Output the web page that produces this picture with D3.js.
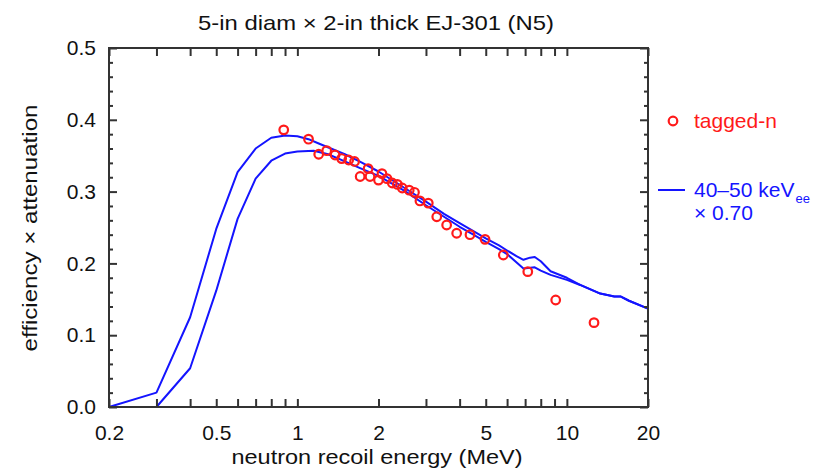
<!DOCTYPE html>
<html>
<head>
<meta charset="utf-8">
<script src="https://cdnjs.cloudflare.com/ajax/libs/d3/7.8.5/d3.min.js"></script>
<style>
  html, body { margin: 0; padding: 0; background: #fff; }
  svg { display: block; font-family: "Liberation Sans", Arial, Helvetica, sans-serif; }
</style>
</head>
<body>
<svg id="chart" width="828" height="469"></svg>
<script>
// ---- data ----
const title = "5-in diam \u00d7 2-in thick EJ-301 (N5)";
const xTitle = "neutron recoil energy (MeV)";
const yTitle = "efficiency \u00d7 attenuation";
const xDomain = [0.2, 20];
const yDomain = [0, 0.5];
const xTickLabels = [0.2, 0.5, 1, 2, 5, 10, 20];
const xTickLabelText = ["0.2", "0.5", "1", "2", "5", "10", "20"];
const xMinorTicks = [0.3, 0.4, 0.6, 0.7, 0.8, 0.9, 3, 4, 6, 7, 8, 9];
const yMajorTicks = [0, 0.1, 0.2, 0.3, 0.4, 0.5];
const yTickLabelText = ["0.0", "0.1", "0.2", "0.3", "0.4", "0.5"];
const yMinorTicks = [0.02,0.04,0.06,0.08,0.12,0.14,0.16,0.18,0.22,0.24,0.26,0.28,0.32,0.34,0.36,0.38,0.42,0.44,0.46,0.48];

// upper blue curve
const upperE = [0.2, 0.3, 0.4, 0.5, 0.6, 0.7, 0.8, 0.9, 1.0, 1.1, 1.2, 1.5, 1.7, 2.0, 2.5, 3.0, 3.5, 4.0, 4.5, 5.0, 5.6, 6.0, 6.5, 6.9, 7.3, 7.6, 8.0, 8.7, 10, 11.2, 13.3, 15, 15.8, 17, 20];
const upperV = [0.0, 0.02, 0.125, 0.248, 0.327, 0.36, 0.375, 0.378, 0.377, 0.373, 0.367, 0.352, 0.342, 0.328, 0.305, 0.286, 0.269, 0.256, 0.245, 0.235, 0.225, 0.218, 0.21, 0.205, 0.208, 0.209, 0.203, 0.189, 0.18, 0.17, 0.158, 0.154, 0.154, 0.148, 0.137];
// lower blue curve
const lowerE = [0.2, 0.3, 0.4, 0.5, 0.6, 0.7, 0.8, 0.9, 1.0, 1.15, 1.3, 1.5, 1.7, 2.0, 2.5, 3.0, 3.5, 4.0, 4.5, 5.0, 5.6, 6.0, 6.9, 7.6, 8.0, 8.7, 10, 11.2, 13.3, 15, 15.8, 17, 20];
const lowerV = [0.0, 0.0, 0.054, 0.162, 0.262, 0.318, 0.343, 0.353, 0.356, 0.357, 0.352, 0.342, 0.333, 0.322, 0.301, 0.281, 0.265, 0.251, 0.24, 0.23, 0.22, 0.213, 0.193, 0.1945, 0.19, 0.184, 0.177, 0.17, 0.158, 0.154, 0.154, 0.148, 0.137];
// tagged-n points
const taggedE = [0.89, 1.10, 1.20, 1.285, 1.38, 1.46, 1.55, 1.63, 1.71, 1.83, 1.86, 2.0, 2.06, 2.15, 2.25, 2.35, 2.45, 2.6, 2.72, 2.85, 3.06, 3.29, 3.58, 3.9, 4.37, 4.97, 5.81, 7.16, 9.09, 12.61];
const taggedV = [0.386, 0.373, 0.352, 0.357, 0.351, 0.346, 0.344, 0.342, 0.321, 0.332, 0.321, 0.316, 0.325, 0.318, 0.312, 0.31, 0.305, 0.302, 0.299, 0.287, 0.284, 0.265, 0.2535, 0.242, 0.24, 0.2335, 0.2117, 0.1885, 0.149, 0.1175];

const legendPoints = "tagged-n";
const legendLine1 = "40\u201350 keV";
const legendLineSub = "ee";
const legendLine2 = "\u00d7 0.70";

// ---- layout ----
const RED = "#ff1a1a", BLUE = "#1414ff", FRAME = "#333333";
const m = { left: 109, right: 648, top: 48, bottom: 407 };
const svg = d3.select("#chart");
const x = d3.scaleLog().domain(xDomain).range([m.left, m.right]);
const y = d3.scaleLinear().domain(yDomain).range([m.bottom, m.top]);

function stretch(sel, w) {
  sel.attr("textLength", w).attr("lengthAdjust", "spacingAndGlyphs");
}

// title
svg.append("text").attr("x", 376).attr("y", 30).attr("text-anchor", "middle")
  .attr("font-size", 21).attr("fill", "#111").text(title).call(stretch, 356);

// curves
const line = d3.line().x(d => x(d[0])).y(d => y(d[1]));
const g = svg.append("g");
g.append("path").datum(upperE.map((e, i) => [e, upperV[i]]))
  .attr("d", line).attr("fill", "none").attr("stroke", BLUE).attr("stroke-width", 2).attr("stroke-linejoin", "round");
g.append("path").datum(lowerE.map((e, i) => [e, lowerV[i]]))
  .attr("d", line).attr("fill", "none").attr("stroke", BLUE).attr("stroke-width", 2).attr("stroke-linejoin", "round");

// points
g.selectAll("circle.pt").data(taggedE.map((e, i) => [e, taggedV[i]])).join("circle")
  .attr("class", "pt").attr("cx", d => x(d[0])).attr("cy", d => y(d[1])).attr("r", 4.3)
  .attr("fill", "none").attr("stroke", RED).attr("stroke-width", 2.2);

// axes (inward ticks on all sides)
function styleAxis(sel) {
  sel.select(".domain").remove();
  sel.selectAll(".tick line").attr("stroke", FRAME).attr("stroke-width", 2);
  sel.selectAll(".tick text").attr("font-size", 21).attr("fill", "#111")
     .attr("font-family", "Liberation Sans, Arial, sans-serif");
}
const xMajor = d3.axisBottom(x).tickValues(xTickLabels).tickSize(-8).tickPadding(18)
  .tickFormat((d, i) => xTickLabelText[i]);
svg.append("g").attr("transform", `translate(0,${m.bottom})`).call(xMajor).call(styleAxis);
svg.append("g").attr("transform", `translate(0,${m.bottom})`)
  .call(d3.axisBottom(x).tickValues(xMinorTicks).tickSize(-8).tickFormat("")).call(styleAxis);
svg.append("g").attr("transform", `translate(0,${m.top})`)
  .call(d3.axisTop(x).tickValues(xTickLabels.concat(xMinorTicks)).tickSize(-8).tickFormat("")).call(styleAxis);

const yMajor = d3.axisLeft(y).tickValues(yMajorTicks).tickSize(-8).tickPadding(13)
  .tickFormat((d, i) => yTickLabelText[i]);
svg.append("g").attr("transform", `translate(${m.left},0)`).call(yMajor).call(styleAxis);
svg.append("g").attr("transform", `translate(${m.left},0)`)
  .call(d3.axisLeft(y).tickValues(yMinorTicks).tickSize(-4).tickFormat("")).call(styleAxis);
svg.append("g").attr("transform", `translate(${m.right},0)`)
  .call(d3.axisRight(y).tickValues(yMajorTicks).tickSize(-8).tickFormat("")).call(styleAxis);
svg.append("g").attr("transform", `translate(${m.right},0)`)
  .call(d3.axisRight(y).tickValues(yMinorTicks).tickSize(-4).tickFormat("")).call(styleAxis);

// frame
svg.append("rect").attr("x", m.left).attr("y", m.top)
  .attr("width", m.right - m.left).attr("height", m.bottom - m.top)
  .attr("fill", "none").attr("stroke", FRAME).attr("stroke-width", 2);

// axis titles
svg.append("text").attr("x", 377).attr("y", 464).attr("text-anchor", "middle")
  .attr("font-size", 21).attr("fill", "#111").text(xTitle).call(stretch, 291);
svg.append("text").attr("transform", "translate(37,228) rotate(-90)").attr("text-anchor", "middle")
  .attr("font-size", 21).attr("fill", "#111").text(yTitle).call(stretch, 247);

// legend
const lg = svg.append("g");
lg.append("circle").attr("cx", 673).attr("cy", 121).attr("r", 4.3)
  .attr("fill", "none").attr("stroke", RED).attr("stroke-width", 2.2);
lg.append("text").attr("x", 694).attr("y", 128).attr("font-size", 21).attr("fill", RED).text(legendPoints);
lg.append("line").attr("x1", 658).attr("x2", 685).attr("y1", 190).attr("y2", 190)
  .attr("stroke", BLUE).attr("stroke-width", 2);
const t1 = lg.append("text").attr("x", 694).attr("y", 197).attr("font-size", 21).attr("fill", BLUE);
t1.append("tspan").text(legendLine1);
t1.append("tspan").attr("font-size", 13).attr("dy", 6).attr("dx", 1).text(legendLineSub);
lg.append("text").attr("x", 694).attr("y", 220).attr("font-size", 21).attr("fill", BLUE).text(legendLine2);
</script>
</body>
</html>
